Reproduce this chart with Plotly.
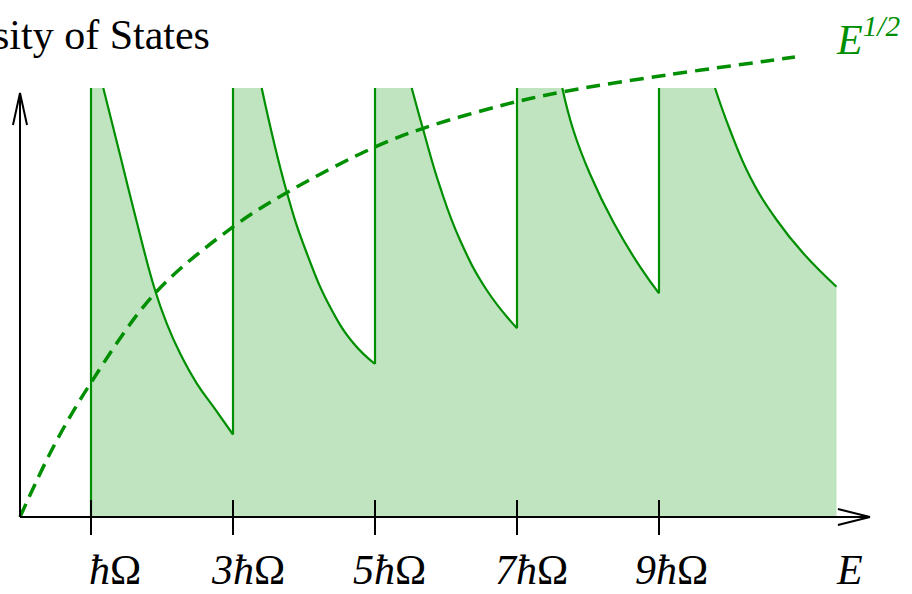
import plotly.graph_objects as go

# ---- data (E in units of ħΩ, DOS in arbitrary units) ----
clip_top = 4.29
level_E = [1, 3, 5, 7, 9]
E_end = 11.5

seg1_E = [1.173, 1.385, 1.620, 1.901, 2.066, 2.254, 2.489, 2.723, 3.0]
seg1_D = [4.29, 3.69, 3.02, 2.27, 1.937, 1.637, 1.337, 1.103, 0.825]
seg2_E = [3.404, 3.756, 4.038, 4.366, 4.694, 5.0]
seg2_D = [4.29, 3.253, 2.640, 2.103, 1.740, 1.530]
seg3_E = [5.517, 5.680, 5.915, 6.197, 6.573, 7.0]
seg3_D = [4.29, 3.870, 3.303, 2.770, 2.270, 1.887]
seg4_E = [7.638, 7.793, 8.028, 8.356, 8.732, 9.0]
seg4_D = [4.29, 3.870, 3.430, 2.950, 2.503, 2.237]
seg5_E = [9.789, 10.0, 10.282, 10.658, 11.032, 11.5]
seg5_D = [4.29, 3.870, 3.403, 2.970, 2.637, 2.303]

sqrt_E = [0, 0.469, 0.97, 1.901, 3.004, 3.779, 4.990, 5.680, 6.807, 7.652, 9.108, 10.517, 10.915]
sqrt_D = [0, 0.70, 1.31, 2.237, 2.903, 3.253, 3.697, 3.887, 4.120, 4.253, 4.420, 4.560, 4.600]

tick_labels = ["ħΩ", "3ħΩ", "5ħΩ", "7ħΩ", "9ħΩ"]
tick_label_x = [1.338, 3.218, 5.211, 7.21, 9.18]

segs_E = [seg1_E, seg2_E, seg3_E, seg4_E, seg5_E]
segs_D = [seg1_D, seg2_D, seg3_D, seg4_D, seg5_D]

GREEN = "#008f00"
FILL = "#c0e3c0"
FONT = "Liberation Serif"

fig = go.Figure()

# filled area
fx, fy = [level_E[0]], [0]
for n, (se, sd) in enumerate(zip(segs_E, segs_D)):
    fx += [level_E[n]] + se
    fy += [clip_top] + sd
fx += [E_end, level_E[0]]
fy += [0, 0]
fig.add_trace(go.Scatter(x=fx, y=fy, fill="toself", fillcolor=FILL,
                         mode="lines", line=dict(width=0), hoverinfo="skip"))

# vertical jumps
vx, vy = [], []
prev_end = [0] + [sd[-1] for sd in segs_D[:-1]]
for n, e in enumerate(level_E):
    vx += [e, e, None]
    vy += [prev_end[n], clip_top, None]
fig.add_trace(go.Scatter(x=vx, y=vy, mode="lines",
                         line=dict(color=GREEN, width=2.2)))

# decaying curves
for se, sd in zip(segs_E, segs_D):
    fig.add_trace(go.Scatter(x=se, y=sd, mode="lines",
                             line=dict(color=GREEN, width=2.2, shape="spline", smoothing=1.3)))

# E^{1/2} dashed
fig.add_trace(go.Scatter(x=sqrt_E, y=sqrt_D, mode="lines",
                         line=dict(color=GREEN, width=3.5, dash="14px,8px",
                                   shape="spline", smoothing=1.0)))

# axes
x_tip, y_tip = 11.97, 4.24
fig.add_trace(go.Scatter(x=[0, x_tip, None, x_tip - 0.45, x_tip, x_tip - 0.45],
                         y=[0, 0, None, 0.08, 0, -0.08], mode="lines",
                         line=dict(color="black", width=2)))
fig.add_trace(go.Scatter(x=[0, 0, None, -0.099, 0, 0.099],
                         y=[0, y_tip, None, y_tip - 0.32, y_tip, y_tip - 0.32], mode="lines",
                         line=dict(color="black", width=2)))
tx, ty = [], []
for e in level_E:
    tx += [e, e, None]
    ty += [0.17, -0.18, None]
fig.add_trace(go.Scatter(x=tx, y=ty, mode="lines", line=dict(color="black", width=2)))

ann = []
for lab, x in zip(tick_labels, tick_label_x):
    num = lab[:-1]
    ann.append(dict(x=x, y=0.0, xref="x", yref="paper", xanchor="center", yanchor="bottom",
                    text=f"<i>{num}</i>Ω", showarrow=False, borderpad=0,
                    font=dict(family=FONT, size=42, color="black")))
ann.append(dict(x=11.68, y=0.0, xref="x", yref="paper", xanchor="center", yanchor="bottom",
                text="<i>E</i>", showarrow=False, borderpad=0,
                font=dict(family=FONT, size=42, color="black")))
ann.append(dict(x=2.704, y=0.899, xref="x", yref="paper", xanchor="right", yanchor="bottom",
                text="Density of States", showarrow=False,
                font=dict(family=FONT, size=42, color="black")))
ann.append(dict(x=11.465, y=0.8906, xref="x", yref="paper", xanchor="left", yanchor="bottom",
                text="<i>E<sup>1/2</sup></i>", showarrow=False,
                font=dict(family=FONT, size=42, color=GREEN)))

fig.update_layout(
    width=912, height=594, margin=dict(l=0, r=0, t=0, b=0),
    paper_bgcolor="white", plot_bgcolor="white", showlegend=False,
    xaxis=dict(range=[-20 / 71, 892 / 71], visible=False, fixedrange=True),
    yaxis=dict(range=[-0.77, 5.17], visible=False, fixedrange=True),
    annotations=ann,
)
fig.write_html("out.html")
